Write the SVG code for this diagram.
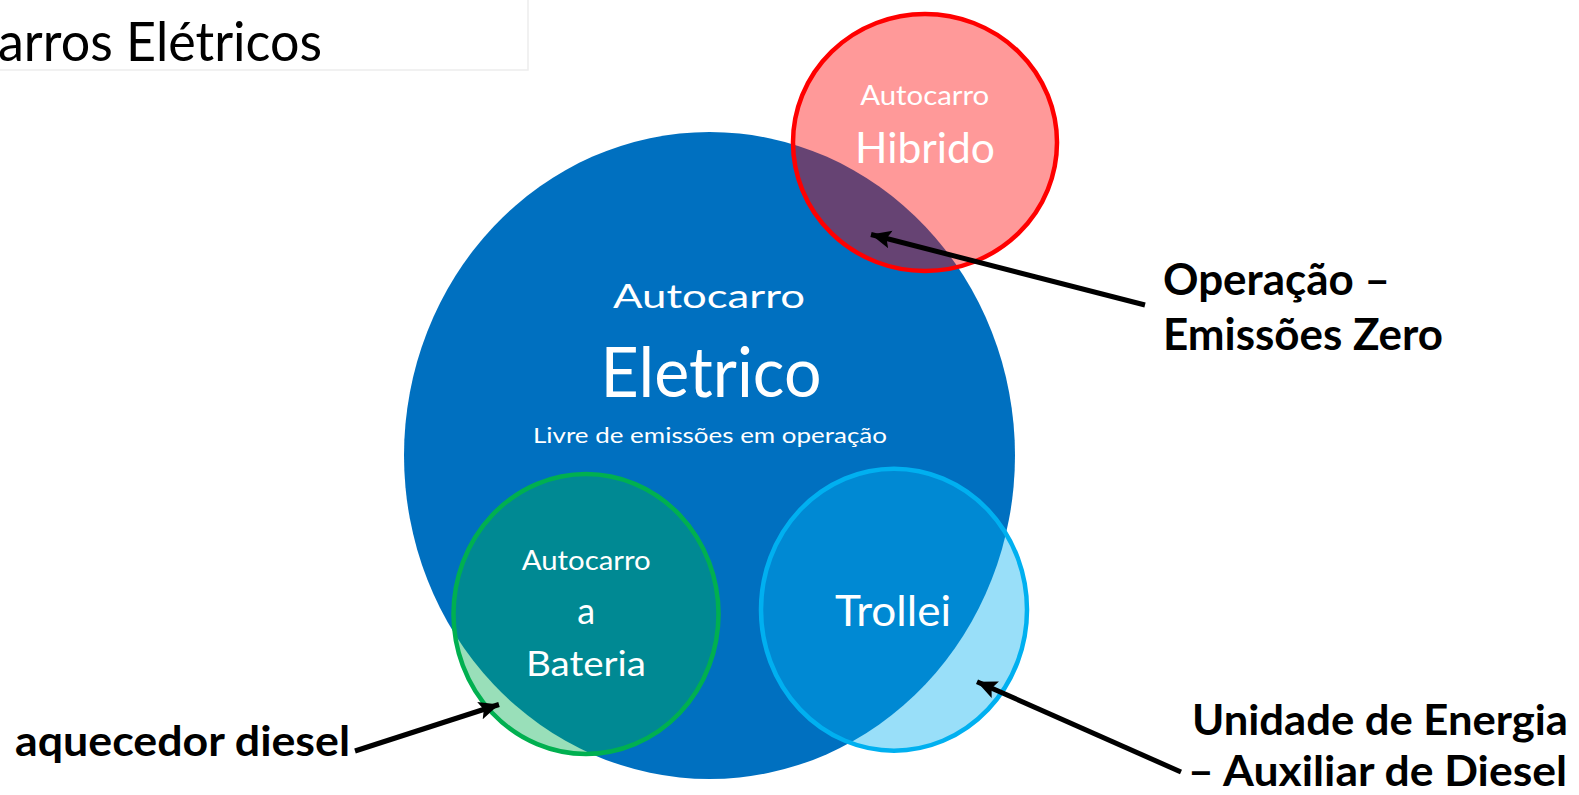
<svg xmlns="http://www.w3.org/2000/svg" width="1579" height="795" viewBox="0 0 1579 795">
<defs>
<style>
.w{fill:#FFFFFF;font-family:Lato,"Liberation Sans",sans-serif;text-anchor:middle}
.b{fill:#000000;font-family:Lato,"Liberation Sans",sans-serif;font-weight:bold}
.arr{stroke:#000000;stroke-width:5;fill:none;marker-end:url(#ah)}
</style>
<marker id="ah" markerUnits="userSpaceOnUse" markerWidth="24" markerHeight="20" refX="20" refY="9" orient="auto">
<path d="M0,0 L20,9 L0,18 L4,9 Z" fill="#000000"/>
</marker>
</defs>
<rect width="1579" height="795" fill="#FFFFFF"/>
<g id="title">
<rect x="-2" y="-2" width="530" height="72" fill="#FFFFFF" stroke="#EDEDED" stroke-width="1.5"/>
<text x="-2" y="61" font-family="Lato,'Liberation Sans',sans-serif" font-size="54" fill="#000000" textLength="324" lengthAdjust="spacingAndGlyphs">arros Elétricos</text>
</g>
<g id="eletrico">
<ellipse cx="709.5" cy="455.5" rx="305.5" ry="323.5" fill="#0070C0"/>
<text class="w" x="709" y="307.5" font-size="33" textLength="192" lengthAdjust="spacingAndGlyphs">Autocarro</text>
<text class="w" x="711" y="396.7" font-size="70" textLength="221" lengthAdjust="spacingAndGlyphs">Eletrico</text>
<text class="w" x="710" y="442.7" font-size="21" textLength="354" lengthAdjust="spacingAndGlyphs">Livre de emissões em operação</text>
</g>
<g id="hibrido">
<ellipse cx="925" cy="142.5" rx="132" ry="128.5" fill="#FF0000" fill-opacity="0.4" stroke="#FF0000" stroke-width="4.5"/>
<text class="w" x="924.7" y="105" font-size="27" textLength="129" lengthAdjust="spacingAndGlyphs">Autocarro</text>
<text class="w" x="925" y="163" font-size="43" textLength="140" lengthAdjust="spacingAndGlyphs">Hibrido</text>
</g>
<g id="bateria">
<ellipse cx="586" cy="614" rx="132.5" ry="140" fill="#00B050" fill-opacity="0.4" stroke="#00B050" stroke-width="4.5"/>
<text class="w" x="586.2" y="570" font-size="26" textLength="129" lengthAdjust="spacingAndGlyphs">Autocarro</text>
<text class="w" x="586.3" y="624.3" font-size="36">a</text>
<text class="w" x="586" y="676" font-size="35" textLength="120" lengthAdjust="spacingAndGlyphs">Bateria</text>
</g>
<g id="trollei">
<ellipse cx="894" cy="609.7" rx="133" ry="141" fill="#00B0F0" fill-opacity="0.4" stroke="#00B0F0" stroke-width="4.5"/>
<text class="w" x="893" y="625.7" font-size="43" textLength="116" lengthAdjust="spacingAndGlyphs">Trollei</text>
</g>
<g id="label-operacao">
<text class="b" x="1163" y="295" font-size="44" textLength="227" lengthAdjust="spacingAndGlyphs">Operação –</text>
<text class="b" x="1163" y="350" font-size="44" textLength="280" lengthAdjust="spacingAndGlyphs">Emissões Zero</text>
</g>
<g id="label-aquecedor">
<text class="b" x="15" y="756" font-size="42" textLength="335" lengthAdjust="spacingAndGlyphs">aquecedor diesel</text>
</g>
<g id="label-unidade">
<text class="b" x="1192" y="735" font-size="42" textLength="376" lengthAdjust="spacingAndGlyphs">Unidade de Energia</text>
<text class="b" x="1188" y="786" font-size="42" textLength="379" lengthAdjust="spacingAndGlyphs">– Auxiliar de Diesel</text>
</g>
<g id="connectors">
<line class="arr" x1="1145" y1="305" x2="871" y2="234.5"/>
<line class="arr" x1="355" y1="751" x2="499" y2="704.5"/>
<line class="arr" x1="1181" y1="772" x2="977" y2="681.7"/>
</g>
</svg>
